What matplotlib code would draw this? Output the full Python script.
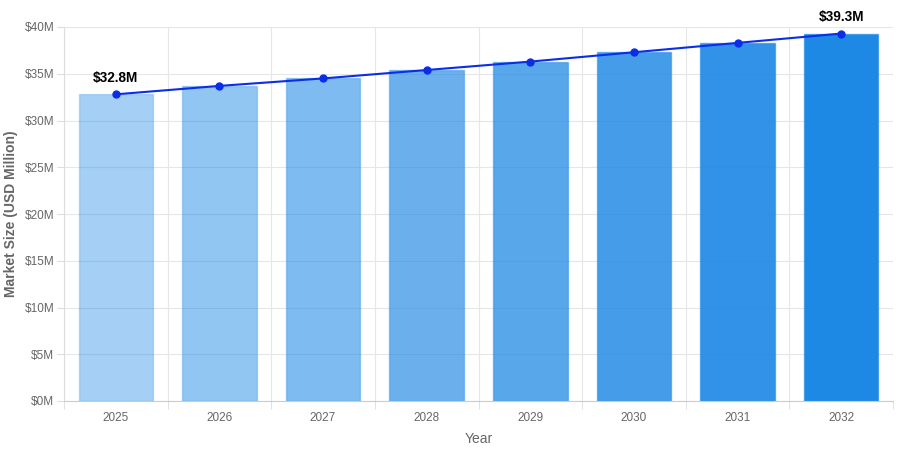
import numpy as np
import matplotlib
matplotlib.use("Agg")
import matplotlib.pyplot as plt
from matplotlib.ticker import FixedLocator

plt.rcParams['font.family'] = ['Liberation Sans', 'DejaVu Sans']

years = ['2025', '2026', '2027', '2028', '2029', '2030', '2031', '2032']
market_size = [32.8, 33.7, 34.5, 35.4, 36.3, 37.3, 38.3, 39.3]
y_ticks = [0, 5, 10, 15, 20, 25, 30, 35, 40]

# bars get darker each year: same blue, rising opacity
base = np.array([30, 136, 229]) / 255
alphas = np.linspace(0.4, 1.0, len(years))
bar_colors = [(*base, a) for a in alphas]
edge_colors = [(*base, a * 0.6) for a in alphas]

fig = plt.figure(figsize=(8.99, 4.49), dpi=100)
ax = fig.add_axes([64 / 899, 48 / 449, 829 / 899, 374 / 449])

x = np.arange(len(years))
ax.bar(x, market_size, width=0.72, color=bar_colors, edgecolor=edge_colors,
       linewidth=1.0, zorder=2)
ax.plot(x, market_size, color='#0a2ee6', linewidth=1.5, marker='o',
        markersize=5, zorder=3)

# label first and last point
for i in [0, len(years) - 1]:
    ax.annotate(f'${market_size[i]}M', (x[i], market_size[i]),
                textcoords='offset points', xytext=(0, 7), ha='center',
                va='bottom', fontsize=9.8, fontweight='bold', color='black')

ax.set_xlim(-0.5, len(years) - 0.5)
ax.set_ylim(0, 40)
ax.set_xticks(x)
ax.set_xticklabels(years)
ax.xaxis.set_minor_locator(FixedLocator(np.arange(-0.5, len(years), 1)))
ax.set_yticks(y_ticks)
ax.set_yticklabels([f'${v}M' for v in y_ticks])

ax.tick_params(axis='x', which='major', length=0, pad=8, labelsize=8.5, colors='#666666')
ax.tick_params(axis='x', which='minor', length=6, color='#dddddd')
ax.tick_params(axis='y', length=5, color='#dddddd', pad=2, labelsize=8.5, labelcolor='#666666')

ax.grid(True, axis='y', color='#e6e6e6', linewidth=0.8, zorder=0)
ax.grid(True, axis='x', which='minor', color='#e6e6e6', linewidth=0.8, zorder=0)
ax.set_axisbelow(True)

for side in ['top', 'right']:
    ax.spines[side].set_visible(False)
ax.spines['left'].set_color('#dddddd')
ax.spines['bottom'].set_color('#cccccc')

ax.set_xlabel('Year', fontsize=10, color='#666666', labelpad=6)
ax.set_ylabel('Market Size (USD Million)', fontsize=10, fontweight='bold',
              color='#666666', labelpad=5)

fig.savefig('out.png', dpi=100)
